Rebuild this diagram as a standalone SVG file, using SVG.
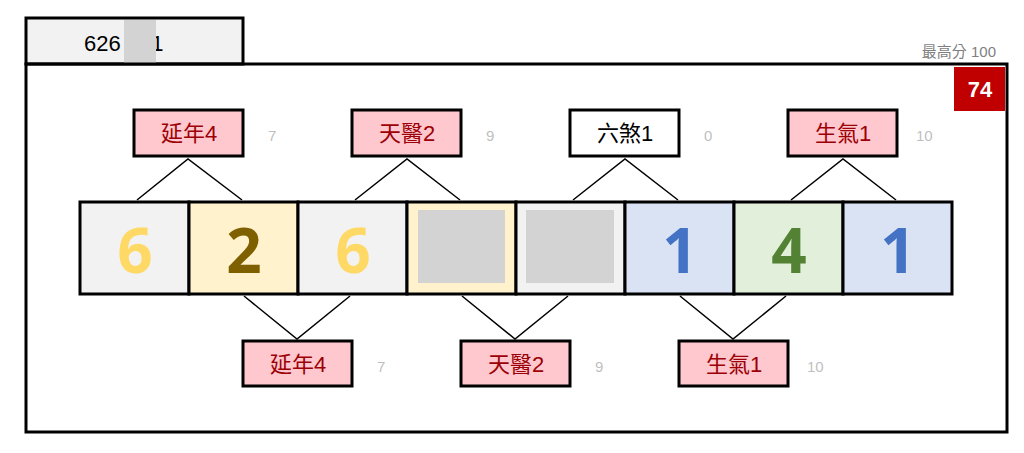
<svg xmlns="http://www.w3.org/2000/svg" width="1024" height="453" viewBox="0 0 1024 453">
<style>
text{font-family:"Liberation Sans","Noto Sans CJK TC",sans-serif}
.lb{stroke:#000;stroke-width:3}
.red{fill:#ffc7ce}
.lt{font-size:22px;fill:#9c0006;text-anchor:middle}
.sc{font-size:15px;fill:#bfbfbf}
.cell{stroke:#000;stroke-width:3}
.d{font-size:62px;font-weight:bold;text-anchor:middle;font-family:"Open Sans","Liberation Sans",sans-serif}
.ln{stroke:#000;stroke-width:1.5;fill:none}
</style>
<rect x="0" y="0" width="1024" height="453" fill="#fff"/>
<g id="tab"><rect x="26" y="18" width="217" height="46" fill="#f2f2f2" class="lb"/>
<text x="84" y="51" font-size="22" fill="#000">626  141</text>
<rect x="124" y="20" width="32" height="43" fill="#d3d3d3"/></g>
<text x="996" y="57" font-size="15" fill="#7f7f7f" text-anchor="end">最高分  100</text>
<g id="frame"><rect x="26" y="64" width="981" height="368" fill="none" class="lb"/></g>
<g id="score"><rect x="954" y="67" width="51" height="44" fill="#c00000"/><text x="980" y="97" font-size="22" font-weight="bold" fill="#fff" text-anchor="middle">74</text></g>
<g id="cells">
<rect x="80" y="202" width="109" height="92" fill="#f2f2f2" class="cell"/>
<rect x="189" y="202" width="109" height="92" fill="#fff2cc" class="cell"/>
<rect x="298" y="202" width="109" height="92" fill="#f2f2f2" class="cell"/>
<rect x="407" y="202" width="109" height="92" fill="#fff2cc" class="cell"/>
<rect x="516" y="202" width="109" height="92" fill="#f2f2f2" class="cell"/>
<rect x="625" y="202" width="109" height="92" fill="#dae3f3" class="cell"/>
<rect x="734" y="202" width="109" height="92" fill="#e2efda" class="cell"/>
<rect x="843" y="202" width="109" height="92" fill="#dae3f3" class="cell"/>
<rect x="418" y="210" width="87" height="73" fill="#d3d3d3"/>
<rect x="526" y="210" width="88" height="73" fill="#d3d3d3"/>
<text x="135" y="273" class="d" fill="#ffd966">6</text>
<text x="244" y="273" class="d" fill="#7f6000">2</text>
<text x="353" y="273" class="d" fill="#ffd966">6</text>
<text x="680" y="273" class="d" fill="#4472c4">1</text>
<text x="789" y="273" class="d" fill="#548235">4</text>
<text x="898" y="273" class="d" fill="#4472c4">1</text>
</g>
<g id="connectors">
<path class="ln" d="M137 200L188 159L242 200M355 200L407 159L460 200M573 200L625 159L678 200M791 200L843 159L896 200"/>
<path class="ln" d="M244 296L297 339L350 296M462 296L515 339L568 296M680 296L733 339L786 296"/>
</g>
<g id="t1"><rect x="134" y="110" width="109" height="46" class="red lb"/><text x="189" y="141" class="lt">延年4</text><text x="268" y="141" class="sc">7</text></g>
<g id="t2"><rect x="352" y="110" width="109" height="46" class="red lb"/><text x="407" y="141" class="lt">天醫2</text><text x="486" y="141" class="sc">9</text></g>
<g id="t3"><rect x="570" y="110" width="109" height="46" fill="#fff" class="lb"/><text x="625" y="141" class="lt" fill="#000" style="fill:#000">六煞1</text><text x="704" y="141" class="sc">0</text></g>
<g id="t4"><rect x="788" y="110" width="109" height="46" class="red lb"/><text x="843" y="141" class="lt">生氣1</text><text x="916" y="141" class="sc">10</text></g>
<g id="b1"><rect x="243" y="341" width="109" height="45" class="red lb"/><text x="298" y="372" class="lt">延年4</text><text x="377" y="372" class="sc">7</text></g>
<g id="b2"><rect x="461" y="341" width="109" height="45" class="red lb"/><text x="516" y="372" class="lt">天醫2</text><text x="595" y="372" class="sc">9</text></g>
<g id="b3"><rect x="679" y="341" width="109" height="45" class="red lb"/><text x="734" y="372" class="lt">生氣1</text><text x="807" y="372" class="sc">10</text></g>
</svg>
